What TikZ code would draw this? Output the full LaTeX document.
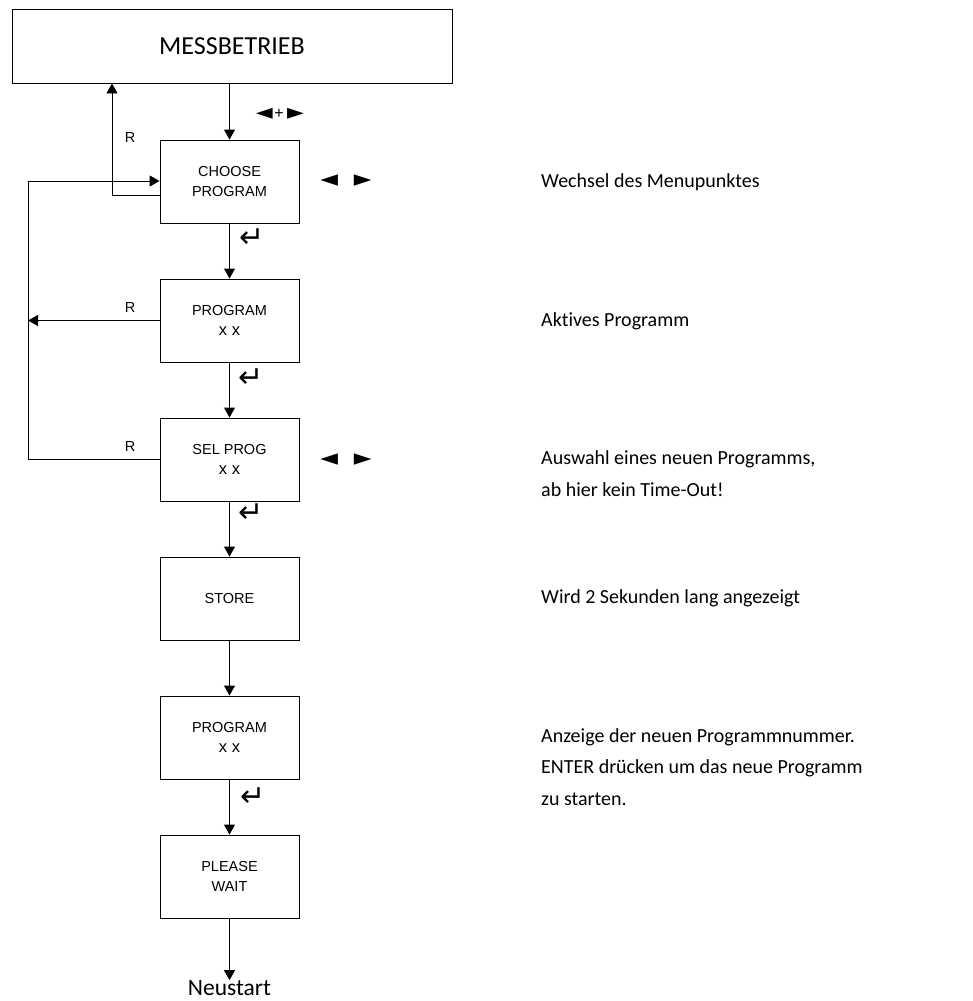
\documentclass[tikz,border=0pt]{standalone}
\usepackage{fontspec}
\setmainfont{Carlito}[RawFeature={-liga}]
\newfontfamily\arialf{Liberation Sans}
\newfontfamily\symf{DejaVu Sans}
\usetikzlibrary{arrows.meta}
\newcommand{\xx}{{\fontsize{16.5}{20}\selectfont x x}}
\begin{document}
\begin{tikzpicture}[x=1pt,y=-1pt,
  box/.style={draw,line width=0.9pt,minimum width=139pt,minimum height=83pt,inner sep=0pt,align=center,font=\arialf\fontsize{14.5}{20}\selectfont},
  arr/.style={line width=0.9pt,-{Triangle[width=11pt,length=10pt]}},
  lbl/.style={font=\arialf\fontsize{14.5}{17}\selectfont,inner sep=0pt},
  side/.style={anchor=west,inner sep=0pt,font=\fontsize{20}{24}\selectfont},
  keys/.style={inner sep=0pt,font=\symf\fontsize{23}{24}\selectfont},
  enter/.style={inner sep=0pt,font=\symf\fontsize{30}{30}\selectfont}]
\useasboundingbox (0,0) rectangle (972,1001);
\node[draw,line width=0.9pt,minimum width=440pt,minimum height=74pt,inner sep=0pt,font=\fontsize{26}{30}\selectfont] (mess) at (232,46) {MESSBETRIEB};
\node[box] (choose) at (229.5,181.5) {CHOOSE\\PROGRAM};
\node[box] (prog1) at (229.5,320.5) {PROGRAM\\\xx};
\node[box] (sel) at (229.5,459.5) {SEL PROG\\\xx};
\node[box] (store) at (229.5,598.5) {STORE};
\node[box] (prog2) at (229.5,737.5) {PROGRAM\\\xx};
\node[box] (wait) at (229.5,876.5) {PLEASE\\WAIT};
\node[inner sep=0pt,font=\fontsize{23.5}{26}\selectfont] (neu) at (229.5,988) {Neustart};
\coordinate (lx) at (28,0);
\coordinate (rx) at (112,0);
% vertical flow
\draw[arr] (mess.south -| choose.north) -- (choose.north);
\draw[arr] (choose) -- (prog1);
\draw[arr] (prog1) -- (sel);
\draw[arr] (sel) -- (store);
\draw[arr] (store) -- (prog2);
\draw[arr] (prog2) -- (wait);
\draw[arr] (wait.south) -- (wait.south |- neu.north);
% returns
\draw[arr] ([yshift=-13.5pt]choose.west) -| (rx |- mess.south);
\draw[arr] (prog1.west) -- (lx |- prog1.west);
\draw[arr] (sel.west) -| ([yshift=0.5pt]lx |- choose.west) -- ([yshift=0.5pt]choose.west);
% labels
\node[lbl] (r1) at (130,138) {R};
\node[lbl] (r2) at (130,308) {R};
\node[lbl] (r3) at (130,447) {R};
\node[inner sep=0pt,font=\symf\fontsize{22}{22}\selectfont] (k0) at (280,114) {◄\kern1.5pt{\arialf\fontsize{16}{16}\selectfont\raisebox{1pt}{+}}\kern3.5pt►};
\node[keys] (k1) at (346,181) {◄\hspace{16pt}►};
\node[keys] (k2) at (346,460) {◄\hspace{16pt}►};
\node[enter] (e1) at (252,238) {↵};
\node[enter] (e2) at (251,378) {↵};
\node[enter] (e3) at (251,513) {↵};
\node[enter] (e4) at (253,797) {↵};
% side texts
\node[side] (t1) at (541,182) {Wechsel des Menupunktes};
\node[side] (t2) at (541,321) {Aktives Programm};
\node[side] (t3) at (541,459) {Auswahl eines neuen Programms,};
\node[side] (t4) at (541,490) {ab hier kein Time-Out!};
\node[side] (t5) at (541,598) {Wird 2 Sekunden lang angezeigt};
\node[side] (t6) at (541,737) {Anzeige der neuen Programmnummer.};
\node[side] (t7) at (541,768) {ENTER drücken um das neue Programm};
\node[side] (t8) at (541,799) {zu starten.};
\end{tikzpicture}
\end{document}
